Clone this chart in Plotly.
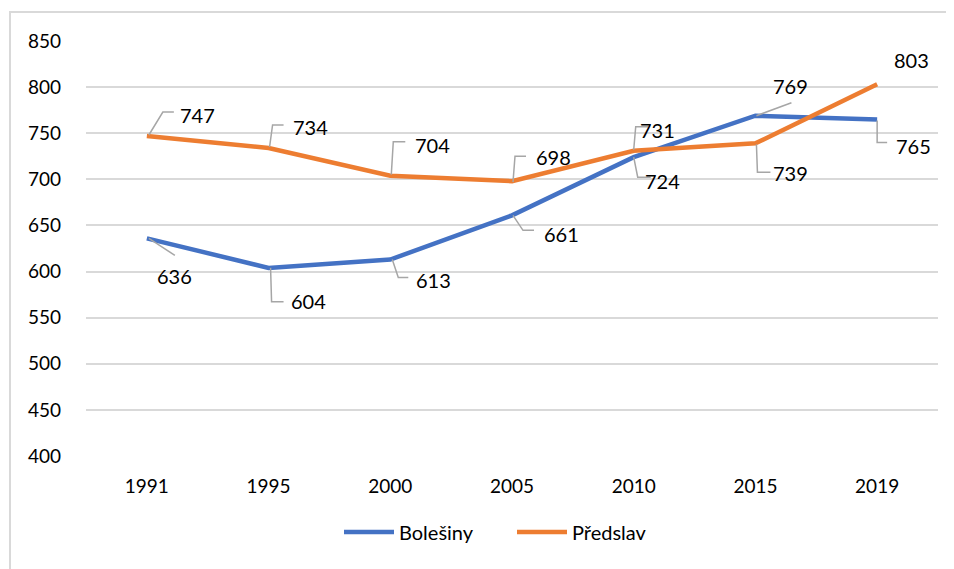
import plotly.graph_objects as go

years = ["1991", "1995", "2000", "2005", "2010", "2015", "2019"]
bolesiny = [636, 604, 613, 661, 724, 769, 765]
predslav = [747, 734, 704, 698, 731, 739, 803]

# label offsets (px, y down) from each point, Excel-style data labels
bol_offsets = [(28, 38), (40, 33), (43, 20), (49, 19), (29, 24), (35, -30), (36, 27)]
pre_offsets = [(51, -21), (42, -21), (42, -31), (41, -24), (24, -21), (35, 30), (34, -24)]

# elbow leader lines (px, y down) from each point to its label
bol_leaders = [
    [(2, 0), (28, 17)],
    [(2, 0), (3, 34), (15, 34)],
    [(2, 0), (8, 18), (18, 18)],
    [(1, 0), (11, 15), (22, 15)],
    [(0, 0), (4, 20), (17, 20)],
    [(1, 0), (36, -13)],
    [(0, 1), (0, 23), (10, 23)],
]
pre_leaders = [
    [(2, -1), (16, -24), (27, -24)],
    [(1, -1), (4, -23), (15, -23)],
    [(1, -1), (3, -34), (15, -34)],
    [(1, 1), (3, -25), (14, -25)],
    [(0, -1), (2, -24), (15, -24)],
    [(1, 1), (2, 29), (15, 29)],
    None,
]

BLUE = "#4472C4"
ORANGE = "#ED7D31"
FONT = "Lato"

fig = go.Figure()

fig.add_trace(go.Scatter(
    x=years, y=bolesiny, name="Bolešiny", mode="lines",
    line=dict(color=BLUE, width=4.5),
))
fig.add_trace(go.Scatter(
    x=years, y=predslav, name="Předslav", mode="lines",
    line=dict(color=ORANGE, width=4.5),
))

annotations = []
shapes = [dict(
    type="rect", xref="paper", yref="paper",
    x0=-0.0892, x1=1.1, y0=-0.3, y1=1.0699,
    line=dict(color="#d9d9d9", width=2), layer="below",
)]

series_info = [
    (bolesiny, bol_offsets, bol_leaders),
    (predslav, pre_offsets, pre_leaders),
]
for series, offsets, leaders in series_info:
    for i, val in enumerate(series):
        dx, dy = offsets[i]
        # category axis: x is the category index
        annotations.append(dict(
            x=i, y=val, text=str(val), showarrow=False,
            xshift=dx, yshift=-dy,
            font=dict(family=FONT, size=20, color="#000000"),
        ))
        pts = leaders[i]
        if pts:
            path = "M " + " L ".join(f"{px},{-py}" for px, py in pts)
            shapes.append(dict(
                type="path", xref="x", yref="y",
                xsizemode="pixel", ysizemode="pixel",
                xanchor=i, yanchor=val, path=path,
                line=dict(color="#a6a6a6", width=1.5),
            ))

fig.update_layout(
    width=954, height=569,
    margin=dict(l=78, r=24, t=33, b=121),
    paper_bgcolor="white", plot_bgcolor="white",
    font=dict(family=FONT, size=19, color="#000000"),
    showlegend=True,
    legend=dict(
        orientation="h", x=0.5, xanchor="center", y=-0.183, yanchor="middle",
        font=dict(family=FONT, size=20), itemwidth=50,
        entrywidth=108, entrywidthmode="pixels",
    ),
    annotations=annotations,
    shapes=shapes,
    xaxis=dict(
        type="category", range=[-0.5, 6.5], showgrid=False, zeroline=False,
        showline=False, ticks="", ticklabelstandoff=17, tickfont=dict(size=19),
    ),
    yaxis=dict(
        range=[400, 850], dtick=50, showgrid=True, gridcolor="#d9d9d9",
        gridwidth=2, zeroline=False, showline=False, ticks="",
        ticklabelstandoff=24, tickfont=dict(size=19),
    ),
)

fig.write_html("out.html")
